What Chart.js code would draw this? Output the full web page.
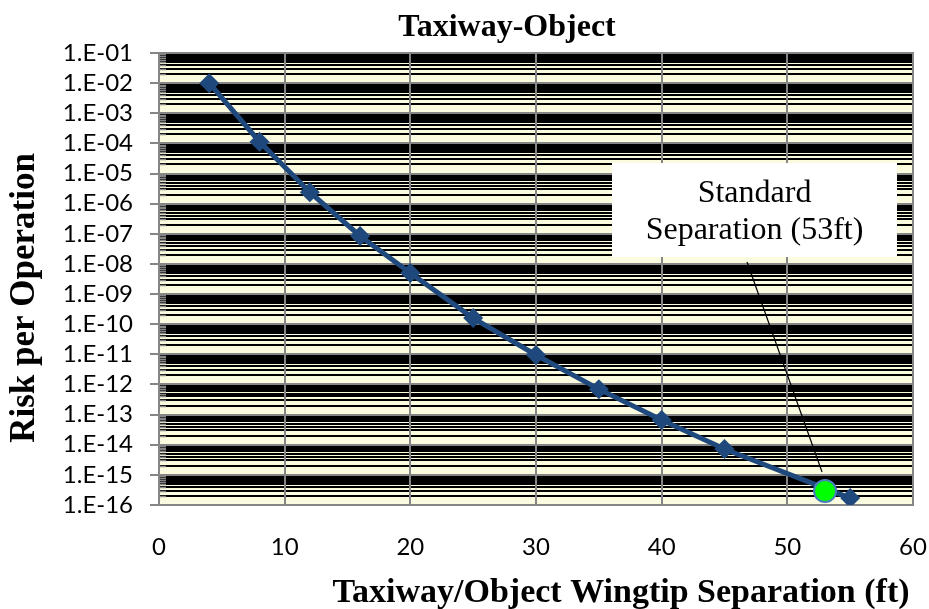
<!DOCTYPE html>
<html>
<head>
<meta charset="utf-8">
<title>Taxiway-Object</title>
<script src="https://cdn.jsdelivr.net/npm/chart.js@4/dist/chart.umd.min.js"></script>
<style>
  html, body { margin: 0; padding: 0; background: #ffffff; }
  #wrap { width: 929px; height: 609px; position: relative; }
</style>
</head>
<body>
<div id="wrap"><canvas id="chart" width="929" height="609"></canvas></div>
<script>
// Wingtip separation (ft) and the corresponding risk per operation
const separationFt = [4, 8, 12, 16, 20, 25, 30, 35, 40, 45, 55];
const riskPerOperation = [1.0e-2, 1.14e-4, 2.4e-6, 8.5e-8, 5.0e-9, 1.6e-10, 9.5e-12, 7.0e-13, 6.6e-14, 7.2e-15, 1.7e-16];

// Standard separation marker
const standardSeparationFt = [53];
const standardRisk = [2.9e-16];

// Axis ticks
const xTickValues = [0, 10, 20, 30, 40, 50, 60];
const yDecadeExponents = [-16, -15, -14, -13, -12, -11, -10, -9, -8, -7, -6, -5, -4, -3, -2, -1];
const yTickLabels = ['1.E-16', '1.E-15', '1.E-14', '1.E-13', '1.E-12', '1.E-11', '1.E-10', '1.E-09',
                     '1.E-08', '1.E-07', '1.E-06', '1.E-05', '1.E-04', '1.E-03', '1.E-02', '1.E-01'];

// Text
const chartTitle = 'Taxiway-Object';
const xAxisTitle = 'Taxiway/Object Wingtip Separation (ft)';
const yAxisTitle = 'Risk per Operation';
const calloutLines = ['Standard', 'Separation (53ft)'];

// Gridline values: every 1..9 x 10^n inside the range
const mantissas = [1, 2, 3, 4, 5, 6, 7, 8, 9];
const yGridValues = [];
yDecadeExponents.forEach((e, i) => {
  const last = i === yDecadeExponents.length - 1;
  (last ? [1] : mantissas).forEach(m => yGridValues.push(Number(m + 'e' + e)));
});
const labelForValue = v => {
  const e = Math.round(Math.log10(v));
  const idx = yDecadeExponents.indexOf(e);
  return (idx >= 0 && Math.abs(v - Math.pow(10, e)) / Math.pow(10, e) < 1e-9) ? yTickLabels[idx] : '';
};

const AXIS_GREY = '#868686';
const PLOT_FILL = '#FBFBE0';
const SERIES_BLUE = '#1F497D';

const plotDecor = {
  id: 'plotDecor',
  beforeDraw(chart) {
    const { ctx, chartArea: a } = chart;
    ctx.save();
    ctx.fillStyle = PLOT_FILL;
    ctx.fillRect(a.left, a.top, a.right - a.left, a.bottom - a.top);
    ctx.restore();
  },
  beforeDatasetsDraw(chart) {
    const { ctx, chartArea: a, scales } = chart;
    ctx.save();
    // short inside minor tick marks along the value axis
    ctx.strokeStyle = AXIS_GREY;
    ctx.lineWidth = 1.5;
    yGridValues.forEach(v => {
      if (labelForValue(v)) return;
      const y = Math.round(scales.y.getPixelForValue(v)) + 0.5;
      ctx.beginPath();
      ctx.moveTo(a.left, y);
      ctx.lineTo(a.left + 7, y);
      ctx.stroke();
    });
    // plot frame
    ctx.lineWidth = 2;
    ctx.strokeRect(a.left, a.top, a.right - a.left, a.bottom - a.top);
    ctx.restore();
  },
  afterDraw(chart) {
    const { ctx, scales } = chart;
    ctx.save();
    ctx.fillStyle = '#000';

    // chart title
    ctx.font = 'bold 32px "Liberation Serif", "Times New Roman", serif';
    ctx.textAlign = 'center';
    ctx.textBaseline = 'alphabetic';
    ctx.fillText(chartTitle, 507, 36);

    // x axis title
    ctx.font = 'bold 34px "Liberation Serif", "Times New Roman", serif';
    ctx.fillText(xAxisTitle, 621, 602);

    // y axis title
    ctx.save();
    ctx.font = 'bold 35px "Liberation Serif", "Times New Roman", serif';
    ctx.translate(34, 298);
    ctx.rotate(-Math.PI / 2);
    ctx.fillText(yAxisTitle, 0, 0);
    ctx.restore();

    // callout box with leader to the standard separation point
    const boxL = 612, boxR = 897, boxT = 163, boxB = 257;
    const px = scales.x.getPixelForValue(standardSeparationFt[0]);
    const py = scales.y.getPixelForValue(standardRisk[0]);
    ctx.strokeStyle = '#000';
    ctx.lineWidth = 1.2;
    ctx.beginPath();
    ctx.moveTo(747, boxB + 5);
    ctx.lineTo(px - 3, py - 19);
    ctx.stroke();

    ctx.fillStyle = '#ffffff';
    ctx.fillRect(boxL, boxT, boxR - boxL, boxB - boxT);
    ctx.fillStyle = '#000';
    ctx.font = '32px "Liberation Serif", "Times New Roman", serif';
    const cx = (boxL + boxR) / 2;
    ctx.fillText(calloutLines[0], cx, 202);
    ctx.fillText(calloutLines[1], cx, 239);
    ctx.restore();
  }
};

new Chart(document.getElementById('chart'), {
  type: 'line',
  data: {
    datasets: [
      {
        label: 'Standard separation',
        type: 'scatter',
        data: standardSeparationFt.map((x, i) => ({ x, y: standardRisk[i] })),
        pointStyle: 'circle',
        pointRadius: 11,
        pointBackgroundColor: '#00FF00',
        pointBorderColor: '#4A7EBB',
        pointBorderWidth: 2,
        showLine: false,
        order: 0
      },
      {
        label: 'Risk per Operation',
        data: separationFt.map((x, i) => ({ x, y: riskPerOperation[i] })),
        borderColor: SERIES_BLUE,
        borderWidth: 5,
        tension: 0,
        fill: false,
        pointStyle: 'rectRot',
        pointRadius: 10,
        pointBackgroundColor: SERIES_BLUE,
        pointBorderColor: SERIES_BLUE,
        pointBorderWidth: 0,
        order: 1
      }
    ]
  },
  options: {
    responsive: false,
    animation: false,
    devicePixelRatio: 1,
    layout: { padding: { top: 53, right: 16, left: 0, bottom: 0 } },
    plugins: {
      legend: { display: false },
      tooltip: { enabled: false },
      title: { display: false }
    },
    scales: {
      x: {
        type: 'linear',
        min: 0,
        max: 60,
        afterBuildTicks(scale) { scale.ticks = xTickValues.map(v => ({ value: v })); },
        afterFit(scale) {
          scale.height = 104;
          scale.paddingLeft = 0;
          scale.paddingRight = 0;
        },
        ticks: {
          autoSkip: false,
          maxRotation: 0,
          padding: 28,
          color: '#000',
          font: { family: 'Lato', size: 24 }
        },
        grid: { z: -1, color: AXIS_GREY, lineWidth: 2, drawTicks: false },
        border: { display: true, color: AXIS_GREY, width: 2 }
      },
      y: {
        type: 'logarithmic',
        min: 1e-16,
        max: 1e-1,
        afterBuildTicks(scale) {
          scale.ticks = yGridValues.map(v => ({ value: v, major: labelForValue(v) !== '' }));
        },
        afterFit(scale) {
          scale.width = 159;
          scale.paddingTop = 0;
          scale.paddingBottom = 0;
        },
        ticks: {
          autoSkip: false,
          padding: 17,
          color: '#000',
          font: { family: 'Lato', size: 24 },
          callback: v => labelForValue(v)
        },
        grid: {
          z: -2,
          color: c => (c.tick && c.tick.major) ? AXIS_GREY : '#000000',
          lineWidth: 2,
          tickLength: 9,
          tickWidth: 2,
          tickColor: c => (c.tick && c.tick.major) ? AXIS_GREY : 'rgba(0,0,0,0)'
        },
        border: { display: true, color: AXIS_GREY, width: 2 }
      }
    }
  },
  plugins: [plotDecor]
});
</script>
</body>
</html>
